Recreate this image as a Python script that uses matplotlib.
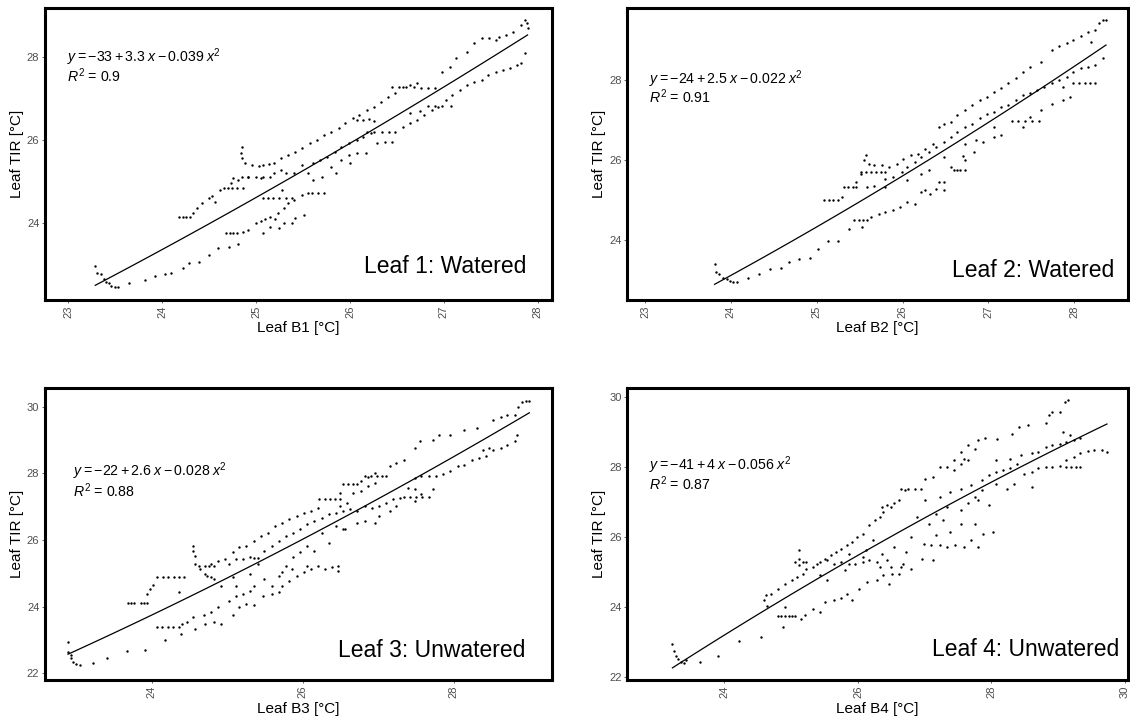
import numpy as np
import matplotlib
matplotlib.use("Agg")
import matplotlib.pyplot as plt

plt.rcParams['font.family'] = ['Liberation Sans', 'DejaVu Sans']
plt.rcParams['mathtext.fontset'] = 'custom'
plt.rcParams['mathtext.rm'] = 'Liberation Sans'
plt.rcParams['mathtext.it'] = 'Liberation Sans:italic'

TITLES = ["Leaf 1: Watered", "Leaf 2: Watered", "Leaf 3: Unwatered", "Leaf 4: Unwatered"]
XLABELS = ["Leaf B1 [°C]", "Leaf B2 [°C]", "Leaf B3 [°C]", "Leaf B4 [°C]"]
EQUATIONS = [r"$y = -33 + 3.3\;x - 0.039\;x^2$", r"$y = -24 + 2.5\;x - 0.022\;x^2$",
             r"$y = -22 + 2.6\;x - 0.028\;x^2$", r"$y = -41 + 4\;x - 0.056\;x^2$"]
R2_TEXT = [r"$R^2$ = 0.9", r"$R^2$ = 0.91", r"$R^2$ = 0.88", r"$R^2$ = 0.87"]

# leaf 1 (watered) - B1 vs TIR
b1_x = [23.29, 23.31, 23.35, 23.38, 23.40, 23.44, 23.46, 23.50, 23.53,
        23.65, 23.82, 23.93, 24.03, 24.10, 24.22, 24.29, 24.39, 24.50, 24.60, 24.71, 24.81,
        24.68, 24.72, 24.76, 24.80, 24.86, 24.92, 25.00, 25.05, 25.10, 25.15, 25.23, 25.30, 25.34, 25.40,
        25.49, 25.55, 25.60, 25.66, 25.72,
        25.08, 25.15, 25.25, 25.30, 25.38, 25.42, 25.51, 25.20,
        25.08, 25.13, 25.18, 25.25, 25.32, 25.38, 25.28,
        24.18, 24.22, 24.26, 24.30, 24.33, 24.37, 24.43, 24.50, 24.53, 24.56, 24.62, 24.66, 24.70, 24.75,
        24.80, 24.86, 24.73, 24.81, 24.76, 24.85, 24.92, 25.00, 25.08, 25.15,
        24.85, 24.84, 24.85, 24.88, 24.96, 25.03, 25.08, 25.14, 25.19, 25.27, 25.34, 25.42, 25.49, 25.57,
        25.65, 25.72, 25.80, 25.88, 25.95, 26.03, 26.10, 26.18, 26.26, 26.33, 26.41, 26.48, 26.56, 26.64,
        26.71, 26.45, 26.52, 26.60, 26.68, 26.76, 26.83, 26.90, 26.98, 27.06, 27.13, 27.25, 27.32, 27.40,
        27.48, 27.55, 27.59, 27.66, 27.74, 27.82, 27.86, 27.88, 27.89,
        24.92, 25.05, 25.19, 25.27, 25.32, 25.40, 25.49, 25.55, 25.61, 25.68, 25.76, 25.84, 25.91, 25.99,
        26.07, 26.14, 26.22, 26.18, 26.26, 26.34, 26.42, 26.48, 26.56, 26.64, 26.71, 26.79, 26.87, 26.94,
        26.83, 26.90, 26.98, 27.07, 27.02, 27.09, 27.17, 27.25, 27.32, 27.40, 27.47, 27.55, 27.63, 27.70,
        27.78, 27.82, 27.86,
        26.07, 26.14, 26.20, 26.26, 26.07, 26.17, 26.29, 26.37, 26.45, 25.61, 25.70, 25.80, 25.91, 25.99,
        26.64, 26.75, 25.85, 26.00]
tir1_y = [22.98, 22.80, 22.78, 22.66, 22.60, 22.56, 22.50, 22.48, 22.48,
          22.56, 22.64, 22.74, 22.78, 22.80, 22.92, 23.04, 23.08, 23.24, 23.40, 23.44, 23.50,
          23.76, 23.76, 23.76, 23.76, 23.78, 23.84, 24.00, 24.05, 24.10, 24.16, 24.24, 24.36, 24.48, 24.55,
          24.68, 24.72, 24.72, 24.72, 24.72,
          23.76, 23.92, 23.88, 24.00, 24.00, 24.12, 24.20, 24.10,
          24.62, 24.62, 24.62, 24.62, 24.62, 24.62, 24.80,
          24.16, 24.16, 24.16, 24.14, 24.24, 24.36, 24.48, 24.60, 24.66, 24.52, 24.80, 24.84, 24.84, 24.84,
          24.84, 24.86, 24.96, 25.04, 25.10, 25.12, 25.12, 25.12, 25.12, 25.12,
          25.84, 25.70, 25.56, 25.44, 25.40, 25.38, 25.40, 25.42, 25.44, 25.56, 25.64, 25.72, 25.80, 25.92,
          26.00, 26.12, 26.20, 26.28, 26.40, 26.52, 26.60, 26.72, 26.80, 26.92, 27.04, 27.12, 27.28, 27.32,
          27.36, 27.28, 27.28, 27.28, 27.28, 27.26, 27.26, 27.24, 27.64, 27.76, 27.96, 28.12, 28.32, 28.44,
          28.44, 28.40, 28.48, 28.52, 28.60, 28.76, 28.88, 28.80, 28.70,
          25.12, 25.10, 25.20, 25.28, 25.22, 25.20, 25.40, 25.20, 25.44, 25.52, 25.60, 25.72, 25.84, 25.92,
          26.00, 26.08, 26.16, 26.20, 26.20, 26.20, 26.20, 26.20, 26.32, 26.40, 26.48, 26.60, 26.72, 26.80,
          26.82, 26.82, 26.82, 26.82, 26.96, 27.08, 27.20, 27.32, 27.40, 27.44, 27.56, 27.64, 27.68, 27.72,
          27.80, 27.84, 28.08,
          26.48, 26.48, 26.50, 26.46, 25.68, 25.70, 25.92, 25.96, 25.96, 25.04, 25.12, 25.36, 25.52, 25.64,
          26.64, 26.70, 25.20, 25.45]

# leaf 2 (watered) - B2 vs TIR
b2_x = [23.81, 23.83, 23.86, 23.91, 23.95, 23.99, 24.03, 24.07,
        24.20, 24.33, 24.45, 24.58, 24.68, 24.79, 24.92, 25.01, 25.13, 25.25, 25.38, 25.53,
        25.44, 25.49, 25.54, 25.59, 25.63, 25.72, 25.80, 25.89, 25.97, 26.05, 26.14, 26.22, 26.26, 26.32,
        26.39, 26.48, 26.48, 26.56, 26.64, 26.60, 26.67, 26.73, 26.73, 26.70, 26.83, 26.94, 27.06, 27.15,
        27.28, 27.35, 27.43, 27.51, 27.59, 27.40, 27.49, 27.61, 27.74, 27.87, 27.95, 27.99, 28.06, 28.12,
        28.18, 28.24, 27.87,
        25.09, 25.14, 25.19, 25.25, 25.30, 25.32, 25.37, 25.42, 25.46, 25.46, 25.51, 25.55, 25.57, 25.61,
        25.67, 25.76, 25.84, 25.93, 26.01, 26.10, 26.18, 26.26, 26.35, 26.43, 26.48, 26.56, 26.64, 26.73,
        26.81, 26.90, 26.98, 27.06, 27.15, 27.23, 27.32, 27.40, 27.49, 27.61, 27.74, 27.82, 27.91, 27.99,
        28.08, 28.16, 28.24, 28.29, 28.33, 28.37, 28.20,
        25.59, 25.67, 25.80, 25.89, 25.99, 26.05, 26.14, 26.22, 26.31, 26.39, 26.48, 26.56, 26.64, 26.73,
        26.81, 26.90, 26.98, 27.06, 27.15, 27.23, 27.32, 27.40, 27.49, 27.57, 27.65, 27.74, 27.82, 27.91,
        27.99, 28.08, 28.16, 28.24, 28.33,
        25.51, 25.57, 25.63, 25.69, 25.75, 25.80,
        25.80, 26.05, 26.22, 26.43, 26.31, 26.48, 26.73, 26.85, 27.06]
tir2_y = [23.40, 23.21, 23.15, 23.06, 23.02, 22.98, 22.94, 22.96,
          23.06, 23.15, 23.27, 23.31, 23.44, 23.52, 23.56, 23.77, 23.98, 23.98, 24.28, 24.32,
          24.50, 24.50, 24.50, 24.50, 24.57, 24.65, 24.69, 24.74, 24.82, 24.95, 24.90, 25.20, 25.24, 25.16,
          25.28, 25.45, 25.24, 25.82, 25.74, 25.76, 25.76, 25.76, 25.99, 26.10, 26.20, 26.45, 26.58, 26.62,
          26.98, 26.98, 26.98, 26.98, 26.98, 26.83, 27.08, 27.25, 27.41, 27.50, 27.58, 27.93, 27.93, 27.93,
          27.93, 27.93, 27.83,
          24.99, 24.99, 24.99, 24.99, 25.07, 25.32, 25.32, 25.32, 25.32, 25.45, 25.66, 25.99, 26.12, 25.91,
          25.87, 25.87, 25.83, 25.91, 26.03, 26.12, 26.16, 26.28, 26.41, 26.83, 26.91, 26.95, 27.12, 27.25,
          27.37, 27.50, 27.58, 27.71, 27.79, 27.92, 28.04, 28.21, 28.33, 28.46, 28.75, 28.84, 28.92, 29.00,
          29.09, 29.21, 29.26, 29.42, 29.49, 29.49, 28.96,
          25.32, 25.36, 25.53, 25.57, 25.70, 25.82, 25.95, 26.08, 26.20, 26.33, 26.45, 26.58, 26.70, 26.83,
          26.91, 27.04, 27.16, 27.20, 27.33, 27.37, 27.50, 27.62, 27.67, 27.75, 27.83, 27.92, 28.00, 28.08,
          28.21, 28.29, 28.33, 28.38, 28.54,
          25.70, 25.70, 25.70, 25.70, 25.70, 25.70,
          25.32, 25.49, 25.66, 25.45, 25.74, 26.07, 26.41, 26.50, 26.83]

# leaf 3 (unwatered) - B3 vs TIR
b3_x = [22.89, 22.89, 22.93, 22.93, 22.96, 23.00, 23.05, 23.22,
        23.41, 23.67, 23.91, 24.17, 24.38, 24.57, 24.71, 24.83, 24.92, 25.07, 25.16, 25.25, 25.35,
        24.07, 24.14, 24.21, 24.28, 24.36, 24.40, 24.47, 24.54, 24.69, 24.78, 24.88, 25.02, 25.11, 25.21,
        25.30, 25.35, 25.47, 25.59, 25.68, 25.73, 25.82, 25.92, 26.01, 26.11, 26.20, 26.30, 26.39, 26.46,
        26.46,
        25.07, 25.11, 25.30, 25.40, 25.49, 25.59, 25.68, 25.78, 25.87, 25.96, 26.06, 26.15, 26.25, 26.34,
        26.44, 26.53, 25.73, 25.85, 26.06, 24.83, 24.92, 24.73,
        23.69, 23.73, 23.76, 23.86, 23.90, 23.93, 23.93, 23.98, 24.02, 24.07, 24.15, 24.22, 24.30, 24.36,
        24.43, 24.36, 24.54, 24.55, 24.57, 24.57, 24.63, 24.70, 24.76, 24.83, 24.64, 24.71, 24.78,
        24.78, 24.88, 24.97, 25.07, 25.16, 25.25, 25.35, 25.44, 25.54, 25.63, 25.73, 25.82, 25.92, 26.01,
        26.11, 26.20, 26.22, 26.29, 26.36, 26.43, 26.49, 26.49, 26.53, 26.60, 26.66, 26.72, 26.77, 26.86,
        26.82, 26.90, 26.98, 27.05, 27.10, 26.96, 27.15, 27.24, 27.34, 27.48, 27.55, 27.72, 27.81, 27.95,
        28.14, 28.31, 28.52, 28.62, 28.71, 28.81, 28.85, 28.90, 28.95, 29.00,
        26.49, 26.58, 26.67, 26.77, 26.86, 26.96,
        25.02, 25.11, 25.21, 25.30, 25.35, 25.40, 25.49, 25.59, 25.68, 25.78, 25.87, 25.96, 26.06, 26.15,
        26.25, 26.34, 26.44, 26.53, 26.63, 26.72, 26.82, 26.91, 27.01, 27.10, 27.20, 27.29, 27.34, 27.42,
        27.50, 27.58, 27.67, 27.39, 27.48, 27.57, 27.67, 27.76, 27.86, 27.95, 28.05, 28.14, 28.24, 28.33,
        28.38, 28.43, 28.47, 28.52, 28.62, 28.71, 28.81, 28.83,
        26.82, 27.01, 27.15, 27.24, 27.48, 27.57, 27.72, 27.48, 26.72, 26.56, 26.96]
tir3_y = [22.94, 22.64, 22.54, 22.45, 22.33, 22.27, 22.25, 22.30,
          22.45, 22.66, 22.69, 22.99, 23.19, 23.34, 23.49, 23.54, 23.49, 23.74, 23.99, 24.09, 24.04,
          23.39, 23.39, 23.39, 23.39, 23.39, 23.49, 23.54, 23.69, 23.74, 23.84, 23.99, 24.18, 24.33, 24.38,
          24.48, 24.63, 24.33, 24.38, 24.43, 24.63, 24.78, 24.93, 25.03, 25.13, 25.23, 25.13, 25.18, 25.23,
          25.08,
          24.88, 24.63, 24.98, 25.28, 24.83, 24.63, 24.93, 25.23, 25.48, 25.63, 25.83, 25.68, 26.22, 25.92,
          26.42, 26.32, 25.03, 25.13, 25.23, 24.83, 24.63, 24.93,
          24.11, 24.11, 24.11, 24.11, 24.11, 24.11, 24.38, 24.53, 24.65, 24.88, 24.88, 24.88, 24.88, 24.88,
          24.88, 24.43, 25.83, 25.68, 25.53, 25.28, 25.23, 25.23, 25.23, 25.23, 25.13, 24.98, 24.88,
          25.28, 25.38, 25.43, 25.63, 25.78, 25.83, 25.98, 26.12, 26.22, 26.42, 26.52, 26.62, 26.72, 26.82,
          26.87, 26.97, 27.22, 27.22, 27.22, 27.22, 27.22, 27.42, 27.67, 27.67, 27.67, 27.67, 27.77, 27.90,
          27.92, 27.92, 27.92, 27.92, 27.92, 28.01, 28.21, 28.31, 28.41, 28.76, 28.96, 29.01, 29.16, 29.16,
          29.30, 29.35, 29.60, 29.70, 29.75, 29.75, 30.00, 30.15, 30.18, 30.18,
          27.02, 27.12, 27.42, 27.47, 27.62, 27.72,
          25.28, 25.43, 25.43, 25.48, 25.45, 25.45, 25.68, 25.83, 25.98, 26.12, 26.22, 26.32, 26.47, 26.57,
          26.67, 26.77, 26.82, 26.87, 26.92, 26.87, 27.02, 26.97, 27.02, 27.12, 27.22, 27.27, 27.30, 27.30,
          27.30, 27.30, 27.30, 27.57, 27.87, 27.92, 27.92, 27.92, 27.97, 28.06, 28.21, 28.26, 28.41, 28.46,
          28.71, 28.51, 28.76, 28.71, 28.76, 28.86, 28.96, 29.16,
          26.57, 26.72, 26.87, 27.02, 27.17, 27.37, 27.52, 27.52, 26.52, 26.32, 26.52]

# leaf 4 (unwatered) - B4 vs TIR
b4_x = [23.22, 23.24, 23.27, 23.30, 23.35, 23.40, 23.43,
        23.64, 23.91, 24.22, 24.54, 24.88, 24.91,
        24.80, 24.85, 24.90, 24.96, 25.01, 25.06, 25.14, 25.20, 25.33, 25.43, 25.51, 25.64, 25.75, 25.83,
        25.91, 26.01, 26.14, 26.28, 26.46,
        24.59, 24.64, 24.62, 24.70, 24.80, 24.91, 25.01, 25.09, 25.17, 25.12, 25.12, 25.12, 25.17, 25.06,
        25.22, 25.22, 25.33, 25.38, 25.43, 25.51, 25.59, 25.67, 25.75, 25.83, 25.91, 25.99, 26.07, 26.17,
        26.25, 26.33, 26.38, 26.36, 26.43, 26.49, 26.54, 26.62, 26.70, 26.65, 26.75, 26.85, 26.94, 27.01,
        27.12, 27.23, 27.33, 27.44, 27.54, 27.65, 27.80, 27.91, 28.09, 28.31, 28.41, 28.54, 28.81, 28.86,
        28.91, 29.02, 29.10, 29.15,
        28.07, 28.28, 28.44, 28.60, 28.70, 28.81, 28.91, 29.02, 29.12, 29.23, 29.33, 29.07, 29.17,
        28.49, 28.60, 28.70, 28.81, 28.91, 29.02, 29.12, 29.23, 29.33, 29.44, 29.54, 29.65, 29.73, 29.12,
        29.19, 29.26, 29.33,
        27.01, 27.23, 27.38, 27.54, 27.70, 27.86, 27.96, 28.07, 28.17, 28.28, 28.38,
        25.86, 25.96, 26.07, 26.12, 26.22, 26.28, 26.36, 26.43, 26.49, 26.54, 26.62, 26.67, 26.72, 26.80,
        26.80, 26.88, 26.96, 26.99, 27.07, 27.10, 27.12, 27.17, 27.23, 27.28, 27.33, 27.38, 27.46, 27.54,
        27.59, 27.70, 27.75, 27.80, 27.88, 28.02, 27.54, 27.65, 27.75, 27.33, 27.17, 27.96, 27.80, 27.86,
        28.07, 28.23, 28.33, 28.60, 27.65, 27.75, 27.44, 27.54, 27.59,
        25.54, 25.64, 25.75, 25.86, 25.43, 25.54, 25.80, 26.07, 26.17, 26.33, 26.38, 26.51, 26.65]
tir4_y = [22.94, 22.72, 22.60, 22.51, 22.41, 22.38, 22.46,
          22.41, 22.60, 23.03, 23.13, 23.41, 23.99,
          23.72, 23.72, 23.72, 23.72, 23.72, 23.72, 23.65, 23.75, 23.94, 23.84, 24.13, 24.20, 24.25, 24.37,
          24.20, 24.51, 24.70, 24.77, 24.65,
          24.18, 24.03, 24.32, 24.37, 24.51, 24.65, 24.75, 24.84, 24.94, 25.18, 25.37, 25.61, 25.28, 25.28,
          25.28, 25.08, 25.13, 25.23, 25.28, 25.37, 25.47, 25.56, 25.66, 25.75, 25.85, 25.99, 26.09, 26.33,
          26.47, 26.56, 26.71, 26.85, 26.90, 26.85, 26.95, 27.04, 27.33, 27.37, 27.37, 27.37, 27.37, 27.66,
          27.71, 28.00, 28.00, 28.19, 28.42, 28.62, 28.76, 28.81, 28.78, 28.95, 29.14, 29.19, 29.24, 29.48,
          29.57, 29.57, 29.86, 29.90,
          28.19, 28.23, 28.33, 28.38, 28.42, 28.57, 28.62, 28.66, 28.71, 28.76, 28.81, 29.00, 28.90,
          27.80, 27.85, 27.95, 28.00, 28.00, 28.01, 28.19, 28.28, 28.38, 28.45, 28.47, 28.47, 28.42, 27.98,
          27.98, 27.98, 27.98,
          27.04, 27.14, 27.28, 27.37, 27.47, 27.61, 27.76, 27.85, 27.90, 27.95, 28.09,
          25.51, 25.23, 25.28, 25.61, 25.90, 25.28, 25.51, 25.32, 25.13, 25.71, 24.94, 25.23, 25.56, 25.08,
          25.99, 26.56, 25.37, 25.80, 26.37, 25.75, 25.32, 26.04, 25.75, 26.47, 25.71, 26.13, 25.75, 26.37,
          25.71, 25.90, 26.37, 25.71, 26.09, 26.13, 26.75, 26.95, 27.14, 26.85, 26.66, 26.90, 27.04, 27.33,
          27.52, 27.37, 27.52, 27.42, 28.19, 28.52, 27.90, 28.09, 28.23,
          25.32, 25.23, 25.28, 25.23, 24.89, 24.75, 25.04, 25.42, 25.32, 25.13, 24.89, 24.94, 25.13]

X_DATA = [b1_x, b2_x, b3_x, b4_x]
Y_DATA = [tir1_y, tir2_y, tir3_y, tir4_y]

XLIMS = [(22.755, 28.15), (22.79, 28.63), (22.585, 29.3), (22.54, 30.05)]
YLIMS = [(22.16, 29.17), (22.5, 29.8), (21.8, 30.56), (21.9, 30.25)]
XTICKS = [[23, 24, 25, 26, 27, 28], [23, 24, 25, 26, 27, 28], [24, 26, 28], [24, 26, 28, 30]]
YTICKS = [[24, 26, 28], [24, 26, 28], [22, 24, 26, 28, 30], [22, 24, 26, 28, 30]]

# axes placement in figure fraction [left, bottom, width, height]
AX_POS = [[0.0398, 0.5828, 0.4487, 0.4061], [0.5549, 0.5828, 0.4436, 0.4061],
          [0.0398, 0.0542, 0.4487, 0.4061], [0.5549, 0.0542, 0.4436, 0.4061]]
EQ_POS = [(0.043, 0.815, 0.748), (0.044, 0.741, 0.674), (0.055, 0.700, 0.626), (0.044, 0.721, 0.650)]
TITLE_POS = [(0.949, 0.092), (0.972, 0.08), (0.947, 0.08), (0.982, 0.082)]

GREY = '#4d4d4d'


def draw_panel(ax, i):
    x = np.array(X_DATA[i])
    y = np.array(Y_DATA[i])
    ax.scatter(x, y, s=3.0, color='black', linewidths=0, zorder=2)

    # second order polynomial fit, like the lm(y ~ poly(x, 2)) smooth
    coef = np.polyfit(x, y, 2)
    xs = np.linspace(x.min(), x.max(), 100)
    ax.plot(xs, np.polyval(coef, xs), color='black', lw=0.9, zorder=3)

    ax.set_xlim(*XLIMS[i])
    ax.set_ylim(*YLIMS[i])
    ax.set_xticks(XTICKS[i])
    ax.set_yticks(YTICKS[i])
    ax.tick_params(axis='x', labelrotation=90)
    ax.tick_params(colors=GREY, labelsize=8, length=2.5, width=0.6, pad=1.5)
    for sp in ax.spines.values():
        sp.set_linewidth(2.2)
        sp.set_color('black')

    ax.set_xlabel(XLABELS[i], fontsize=11, labelpad=2.5)
    ax.set_ylabel("Leaf TIR [°C]", fontsize=11, labelpad=2)

    ex, ey1, ey2 = EQ_POS[i]
    ax.text(ex, ey1, EQUATIONS[i], transform=ax.transAxes, fontsize=10.2, va='baseline', ha='left')
    ax.text(ex, ey2, R2_TEXT[i], transform=ax.transAxes, fontsize=10.2, va='baseline', ha='left')

    tx, ty = TITLE_POS[i]
    ax.text(tx, ty, TITLES[i], transform=ax.transAxes, fontsize=16.5, va='baseline', ha='right')


def main():
    fig = plt.figure(figsize=(11.3, 7.19), dpi=100)
    for i in range(4):
        ax = fig.add_axes(AX_POS[i])
        draw_panel(ax, i)
    fig.savefig("out.png", dpi=100)


if __name__ == "__main__":
    main()
